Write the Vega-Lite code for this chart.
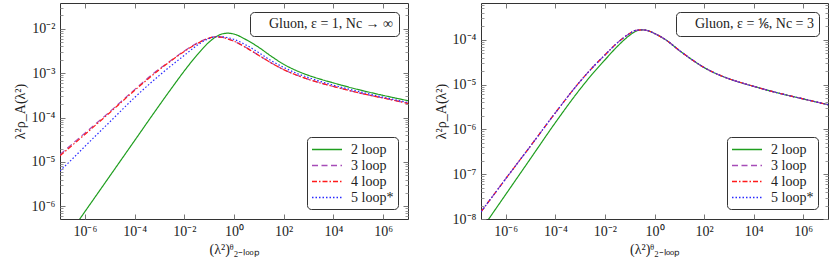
{
  "$schema": "https://vega.github.io/schema/vega-lite/v6.json",
  "padding": {"left": 12, "top": 2, "right": 3, "bottom": 0},
  "spacing": 24,
  "config": {
    "view": {"stroke": "#333", "strokeWidth": 1},
    "font": "serif",
    "axis": {"labelFont": "serif", "titleFont": "serif", "labelColor": "#222", "titleColor": "#222", "tickColor": "#777", "domain": false, "grid": false},
    "legend": {"labelFont": "serif"}
  },
  "datasets": {
    "L": [
      {"x": 1e-7, "2 loop": 1.202e-7, "3 loop": 1.479e-5, "4 loop": 1.380e-5, "5 loop*": 6.310e-6},
      {"x": 3.162e-7, "2 loop": 3.02e-7, "3 loop": 2.570e-5, "4 loop": 2.399e-5, "5 loop*": 1.175e-5},
      {"x": 1e-6, "2 loop": 7.586e-7, "3 loop": 4.467e-5, "4 loop": 4.169e-5, "5 loop*": 2.239e-5},
      {"x": 1e-5, "2 loop": 4.786e-6, "3 loop": 1.349e-4, "4 loop": 1.288e-4, "5 loop*": 7.943e-5},
      {"x": 1e-4, "2 loop": 3.02e-5, "3 loop": 4.266e-4, "4 loop": 4.074e-4, "5 loop*": 2.818e-4},
      {"x": 1e-3, "2 loop": 1.905e-4, "3 loop": 1.259e-3, "4 loop": 1.202e-3, "5 loop*": 8.913e-4},
      {"x": 3.162e-3, "2 loop": 4.677e-4, "3 loop": 1.995e-3, "4 loop": 1.950e-3, "5 loop*": 1.514e-3},
      {"x": 1e-2, "2 loop": 1.122e-3, "3 loop": 3.162e-3, "4 loop": 3.090e-3, "5 loop*": 2.512e-3},
      {"x": 3.162e-2, "2 loop": 2.512e-3, "3 loop": 4.677e-3, "4 loop": 4.571e-3, "5 loop*": 4.169e-3},
      {"x": 0.1, "2 loop": 5.012e-3, "3 loop": 6.166e-3, "4 loop": 6.166e-3, "5 loop*": 6.026e-3},
      {"x": 0.1778, "2 loop": 6.457e-3, "3 loop": 6.607e-3, "4 loop": 6.607e-3, "5 loop*": 6.607e-3},
      {"x": 0.3162, "2 loop": 7.586e-3, "3 loop": 6.457e-3, "4 loop": 6.457e-3, "5 loop*": 6.607e-3},
      {"x": 0.5623, "2 loop": 7.943e-3, "3 loop": 5.888e-3, "4 loop": 5.888e-3, "5 loop*": 6.310e-3},
      {"x": 1, "2 loop": 7.586e-3, "3 loop": 5.248e-3, "4 loop": 5.248e-3, "5 loop*": 5.754e-3},
      {"x": 3.162, "2 loop": 5.623e-3, "3 loop": 3.715e-3, "4 loop": 3.715e-3, "5 loop*": 4.266e-3},
      {"x": 10, "2 loop": 3.802e-3, "3 loop": 2.512e-3, "4 loop": 2.512e-3, "5 loop*": 2.884e-3},
      {"x": 31.62, "2 loop": 2.399e-3, "3 loop": 1.698e-3, "4 loop": 1.698e-3, "5 loop*": 1.905e-3},
      {"x": 100, "2 loop": 1.585e-3, "3 loop": 1.202e-3, "4 loop": 1.202e-3, "5 loop*": 1.349e-3},
      {"x": 316.2, "2 loop": 1.148e-3, "3 loop": 9.120e-4, "4 loop": 9.120e-4, "5 loop*": 1.000e-3},
      {"x": 1e3, "2 loop": 8.913e-4, "3 loop": 7.244e-4, "4 loop": 7.244e-4, "5 loop*": 7.943e-4},
      {"x": 3162, "2 loop": 7.244e-4, "3 loop": 5.957e-4, "4 loop": 5.957e-4, "5 loop*": 6.457e-4},
      {"x": 1e4, "2 loop": 6.026e-4, "3 loop": 5.012e-4, "4 loop": 5.012e-4, "5 loop*": 5.370e-4},
      {"x": 1e5, "2 loop": 4.266e-4, "3 loop": 3.631e-4, "4 loop": 3.631e-4, "5 loop*": 3.890e-4},
      {"x": 1e6, "2 loop": 3.162e-4, "3 loop": 2.754e-4, "4 loop": 2.754e-4, "5 loop*": 2.884e-4},
      {"x": 1e7, "2 loop": 2.399e-4, "3 loop": 2.089e-4, "4 loop": 2.089e-4, "5 loop*": 2.188e-4}
    ],
    "R": [
      {"x": 1e-7, "2 loop": 5.623e-9, "3 loop": 1.445e-8, "4 loop": 1.445e-8, "5 loop*": 1.445e-8},
      {"x": 3.162e-7, "2 loop": 1.413e-8, "3 loop": 3.388e-8, "4 loop": 3.388e-8, "5 loop*": 3.388e-8},
      {"x": 1e-6, "2 loop": 3.548e-8, "3 loop": 7.943e-8, "4 loop": 7.943e-8, "5 loop*": 7.943e-8},
      {"x": 1e-5, "2 loop": 2.239e-7, "3 loop": 4.266e-7, "4 loop": 4.266e-7, "5 loop*": 4.266e-7},
      {"x": 1e-4, "2 loop": 1.413e-6, "3 loop": 2.344e-6, "4 loop": 2.344e-6, "5 loop*": 2.344e-6},
      {"x": 1e-3, "2 loop": 7.943e-6, "3 loop": 1.175e-5, "4 loop": 1.175e-5, "5 loop*": 1.175e-5},
      {"x": 3.162e-3, "2 loop": 1.738e-5, "3 loop": 2.399e-5, "4 loop": 2.399e-5, "5 loop*": 2.399e-5},
      {"x": 1e-2, "2 loop": 3.548e-5, "3 loop": 4.571e-5, "4 loop": 4.571e-5, "5 loop*": 4.571e-5},
      {"x": 3.162e-2, "2 loop": 7.079e-5, "3 loop": 8.511e-5, "4 loop": 8.511e-5, "5 loop*": 8.511e-5},
      {"x": 0.1, "2 loop": 1.259e-4, "3 loop": 1.380e-4, "4 loop": 1.380e-4, "5 loop*": 1.380e-4},
      {"x": 0.1778, "2 loop": 1.549e-4, "3 loop": 1.622e-4, "4 loop": 1.622e-4, "5 loop*": 1.622e-4},
      {"x": 0.3162, "2 loop": 1.660e-4, "3 loop": 1.660e-4, "4 loop": 1.660e-4, "5 loop*": 1.660e-4},
      {"x": 0.5623, "2 loop": 1.585e-4, "3 loop": 1.585e-4, "4 loop": 1.585e-4, "5 loop*": 1.585e-4},
      {"x": 1, "2 loop": 1.380e-4, "3 loop": 1.380e-4, "4 loop": 1.380e-4, "5 loop*": 1.380e-4},
      {"x": 3.162, "2 loop": 9.550e-5, "3 loop": 9.550e-5, "4 loop": 9.550e-5, "5 loop*": 9.550e-5},
      {"x": 10, "2 loop": 5.754e-5, "3 loop": 5.754e-5, "4 loop": 5.754e-5, "5 loop*": 5.754e-5},
      {"x": 31.62, "2 loop": 3.631e-5, "3 loop": 3.631e-5, "4 loop": 3.631e-5, "5 loop*": 3.631e-5},
      {"x": 100, "2 loop": 2.399e-5, "3 loop": 2.399e-5, "4 loop": 2.399e-5, "5 loop*": 2.399e-5},
      {"x": 316.2, "2 loop": 1.738e-5, "3 loop": 1.738e-5, "4 loop": 1.738e-5, "5 loop*": 1.738e-5},
      {"x": 1e3, "2 loop": 1.349e-5, "3 loop": 1.349e-5, "4 loop": 1.349e-5, "5 loop*": 1.349e-5},
      {"x": 3162, "2 loop": 1.096e-5, "3 loop": 1.096e-5, "4 loop": 1.096e-5, "5 loop*": 1.096e-5},
      {"x": 1e4, "2 loop": 9.120e-6, "3 loop": 9.120e-6, "4 loop": 9.120e-6, "5 loop*": 9.120e-6},
      {"x": 1e5, "2 loop": 6.457e-6, "3 loop": 6.457e-6, "4 loop": 6.457e-6, "5 loop*": 6.457e-6},
      {"x": 1e6, "2 loop": 4.786e-6, "3 loop": 4.786e-6, "4 loop": 4.786e-6, "5 loop*": 4.786e-6},
      {"x": 1e7, "2 loop": 3.548e-6, "3 loop": 3.548e-6, "4 loop": 3.548e-6, "5 loop*": 3.548e-6}
    ]
  },
  "resolve": {
    "scale": {"color": "independent", "strokeDash": "independent", "shape": "independent", "x": "independent", "y": "independent"},
    "legend": {"color": "independent", "strokeDash": "independent", "shape": "independent"}
  },
  "hconcat": [
    {
      "width": 348,
      "height": 216,
      "resolve": {"axis": {"x": "independent", "y": "independent"}},
      "layer": [
        {
          "data": {"name": "L"},
          "transform": [{"fold": ["2 loop", "3 loop", "4 loop", "5 loop*"], "as": ["s", "v"]}],
          "mark": {"type": "line", "strokeWidth": 1.2, "clip": true, "interpolate": "monotone"},
          "encoding": {
            "x": {"field": "x", "type": "quantitative", "scale": {"type": "log", "domain": [1e-7, 1e7]},
              "axis": {"orient": "bottom", "values": [1e-6, 1e-4, 1e-2, 1, 100, 1e4, 1e6], "ticks": false, "labelFontSize": 14, "labelPadding": 5, "title": "(λ²)ᶿ₂₋ₗₒₒₚ", "titleFontSize": 14, "titleFontWeight": "normal", "titlePadding": 4,
                "labelExpr": "'10' + replace(replace(replace(replace(replace(replace(replace(replace(replace(format(round(log(datum.value)/LN10),'d'),'−','⁻'),'-','⁻'),'0','⁰'),'1','¹'),'2','²'),'4','⁴'),'6','⁶'),'7','⁷'),'8','⁸')"}},
            "y": {"field": "v", "type": "quantitative", "scale": {"type": "log", "domain": [5.2e-7, 0.038]},
              "axis": {"orient": "left", "values": [1e-6, 1e-5, 1e-4, 1e-3, 1e-2], "ticks": false, "labelFontSize": 14, "labelPadding": 5, "title": "λ²ρ_A(λ²)", "titleFontSize": 14, "titleFontWeight": "normal", "titlePadding": 4,
                "labelExpr": "'10' + replace(replace(replace(replace(replace(replace(replace(replace(replace(format(round(log(datum.value)/LN10),'d'),'−','⁻'),'-','⁻'),'0','⁰'),'1','¹'),'2','²'),'3','³'),'4','⁴'),'5','⁵'),'6','⁶')"}},
            "color": {"field": "s", "type": "nominal", "scale": {"domain": ["2 loop", "3 loop", "4 loop", "5 loop*"], "range": ["#1f9e1f", "#a64cb8", "#ff1a1a", "#2a2aff"]},
              "legend": {"orient": "bottom-right", "title": null, "offset": 10, "padding": 4, "rowPadding": -4, "strokeColor": "#333", "fillColor": "white", "cornerRadius": 4, "labelFontSize": 14, "labelColor": "#222", "symbolType": "M-1,0H3", "symbolSize": 225, "symbolStrokeWidth": 1.3, "symbolFillColor": "transparent", "labelOffset": 23}},
            "strokeDash": {"field": "s", "type": "nominal", "scale": {"domain": ["2 loop", "3 loop", "4 loop", "5 loop*"], "range": [[1, 0], [6, 3.5], [5, 2, 1.5, 2], [1.5, 2]]},
              "legend": {"orient": "bottom-right", "title": null, "offset": 10, "padding": 4, "rowPadding": -4, "strokeColor": "#333", "fillColor": "white", "cornerRadius": 4, "labelFontSize": 14, "labelColor": "#222", "symbolType": "M-1,0H3", "symbolSize": 225, "symbolStrokeWidth": 1.3, "symbolFillColor": "transparent", "labelOffset": 23}}
          }
        },
        {
          "data": {"values": [{"x": 1, "y": 1e-3, "t": "Gluon, ε = 1, Nc → ∞"}]},
          "mark": {"type": "point", "opacity": 0},
          "encoding": {
            "x": {"field": "x", "type": "quantitative", "scale": {"type": "log", "domain": [1e-7, 1e7]},
              "axis": {"orient": "top", "values": [1e-6, 1e-4, 1e-2, 1, 100, 1e4, 1e6], "labels": false, "tickSize": -5, "title": null}},
            "y": {"field": "y", "type": "quantitative", "scale": {"type": "log", "domain": [5.2e-7, 0.038]},
              "axis": {"orient": "right", "values": [1e-6, 1e-5, 1e-4, 1e-3, 1e-2], "labels": false, "tickSize": -5, "title": null}},
            "shape": {"field": "t", "type": "nominal",
              "legend": {"orient": "top-right", "title": null, "offset": 9, "padding": 5, "strokeColor": "#333", "fillColor": "white", "cornerRadius": 4, "labelFontSize": 14, "labelColor": "#222", "symbolSize": 0, "symbolOpacity": 0, "symbolStrokeWidth": 0, "labelOffset": 0}}
          }
        },
        {
          "data": {"values": [{"x": 1, "y": 1e-3}]},
          "mark": {"type": "point", "opacity": 0},
          "encoding": {
            "x": {"field": "x", "type": "quantitative", "scale": {"type": "log", "domain": [1e-7, 1e7]},
              "axis": {"orient": "bottom", "values": [1e-6, 1e-4, 1e-2, 1, 100, 1e4, 1e6], "labels": false, "tickSize": -5, "title": null}},
            "y": {"field": "y", "type": "quantitative", "scale": {"type": "log", "domain": [5.2e-7, 0.038]},
              "axis": {"orient": "left", "values": [1e-6, 1e-5, 1e-4, 1e-3, 1e-2], "labels": false, "tickSize": -5, "title": null}}
          }
        },
        {
          "data": {"values": [{"x": 1, "y": 1e-3}]},
          "mark": {"type": "point", "opacity": 0},
          "encoding": {
            "x": {"field": "x", "type": "quantitative", "scale": {"type": "log", "domain": [1e-7, 1e7]}, "axis": null},
            "y": {"field": "y", "type": "quantitative", "scale": {"type": "log", "domain": [5.2e-7, 0.038]},
              "axis": {"orient": "left", "values": [6e-7, 7e-7, 8e-7, 9e-7, 2e-6, 3e-6, 4e-6, 5e-6, 6e-6, 7e-6, 8e-6, 9e-6, 2e-5, 3e-5, 4e-5, 5e-5, 6e-5, 7e-5, 8e-5, 9e-5, 2e-4, 3e-4, 4e-4, 5e-4, 6e-4, 7e-4, 8e-4, 9e-4, 2e-3, 3e-3, 4e-3, 5e-3, 6e-3, 7e-3, 8e-3, 9e-3, 2e-2, 3e-2], "labels": false, "tickSize": -3, "tickColor": "#999", "title": null}}
          }
        },
        {
          "data": {"values": [{"x": 1, "y": 1e-3}]},
          "mark": {"type": "point", "opacity": 0},
          "encoding": {
            "x": {"field": "x", "type": "quantitative", "scale": {"type": "log", "domain": [1e-7, 1e7]}, "axis": null},
            "y": {"field": "y", "type": "quantitative", "scale": {"type": "log", "domain": [5.2e-7, 0.038]},
              "axis": {"orient": "right", "values": [6e-7, 7e-7, 8e-7, 9e-7, 2e-6, 3e-6, 4e-6, 5e-6, 6e-6, 7e-6, 8e-6, 9e-6, 2e-5, 3e-5, 4e-5, 5e-5, 6e-5, 7e-5, 8e-5, 9e-5, 2e-4, 3e-4, 4e-4, 5e-4, 6e-4, 7e-4, 8e-4, 9e-4, 2e-3, 3e-3, 4e-3, 5e-3, 6e-3, 7e-3, 8e-3, 9e-3, 2e-2, 3e-2], "labels": false, "tickSize": -3, "tickColor": "#999", "title": null}}
          }
        }
      ]
    },
    {
      "width": 347,
      "height": 216,
      "resolve": {"axis": {"x": "independent", "y": "independent"}},
      "layer": [
        {
          "data": {"name": "R"},
          "transform": [{"fold": ["2 loop", "3 loop", "4 loop", "5 loop*"], "as": ["s", "v"]}],
          "mark": {"type": "line", "strokeWidth": 1.2, "clip": true, "interpolate": "monotone"},
          "encoding": {
            "x": {"field": "x", "type": "quantitative", "scale": {"type": "log", "domain": [1e-7, 1e7]},
              "axis": {"orient": "bottom", "values": [1e-6, 1e-4, 1e-2, 1, 100, 1e4, 1e6], "ticks": false, "labelFontSize": 14, "labelPadding": 5, "title": "(λ²)ᶿ₂₋ₗₒₒₚ", "titleFontSize": 14, "titleFontWeight": "normal", "titlePadding": 4,
                "labelExpr": "'10' + replace(replace(replace(replace(replace(replace(replace(replace(replace(format(round(log(datum.value)/LN10),'d'),'−','⁻'),'-','⁻'),'0','⁰'),'1','¹'),'2','²'),'4','⁴'),'6','⁶'),'7','⁷'),'8','⁸')"}},
            "y": {"field": "v", "type": "quantitative", "scale": {"type": "log", "domain": [1e-8, 6.6e-4]},
              "axis": {"orient": "left", "values": [1e-8, 1e-7, 1e-6, 1e-5, 1e-4], "ticks": false, "labelFontSize": 14, "labelPadding": 5, "title": "λ²ρ_A(λ²)", "titleFontSize": 14, "titleFontWeight": "normal", "titlePadding": 4,
                "labelExpr": "'10' + replace(replace(replace(replace(replace(replace(replace(replace(replace(format(round(log(datum.value)/LN10),'d'),'−','⁻'),'-','⁻'),'0','⁰'),'4','⁴'),'5','⁵'),'6','⁶'),'7','⁷'),'8','⁸'),'2','²')"}},
            "color": {"field": "s", "type": "nominal", "scale": {"domain": ["2 loop", "3 loop", "4 loop", "5 loop*"], "range": ["#1f9e1f", "#a64cb8", "#ff1a1a", "#2a2aff"]},
              "legend": {"orient": "bottom-right", "title": null, "offset": 10, "padding": 4, "rowPadding": -4, "strokeColor": "#333", "fillColor": "white", "cornerRadius": 4, "labelFontSize": 14, "labelColor": "#222", "symbolType": "M-1,0H3", "symbolSize": 225, "symbolStrokeWidth": 1.3, "symbolFillColor": "transparent", "labelOffset": 23}},
            "strokeDash": {"field": "s", "type": "nominal", "scale": {"domain": ["2 loop", "3 loop", "4 loop", "5 loop*"], "range": [[1, 0], [6, 3.5], [5, 2, 1.5, 2], [1.5, 2]]},
              "legend": {"orient": "bottom-right", "title": null, "offset": 10, "padding": 4, "rowPadding": -4, "strokeColor": "#333", "fillColor": "white", "cornerRadius": 4, "labelFontSize": 14, "labelColor": "#222", "symbolType": "M-1,0H3", "symbolSize": 225, "symbolStrokeWidth": 1.3, "symbolFillColor": "transparent", "labelOffset": 23}}
          }
        },
        {
          "data": {"values": [{"x": 1, "y": 1e-5, "t": "Gluon, ε = ⅙, Nc = 3"}]},
          "mark": {"type": "point", "opacity": 0},
          "encoding": {
            "x": {"field": "x", "type": "quantitative", "scale": {"type": "log", "domain": [1e-7, 1e7]},
              "axis": {"orient": "top", "values": [1e-6, 1e-4, 1e-2, 1, 100, 1e4, 1e6], "labels": false, "tickSize": -5, "title": null}},
            "y": {"field": "y", "type": "quantitative", "scale": {"type": "log", "domain": [1e-8, 6.6e-4]},
              "axis": {"orient": "right", "values": [1e-8, 1e-7, 1e-6, 1e-5, 1e-4], "labels": false, "tickSize": -5, "title": null}},
            "shape": {"field": "t", "type": "nominal",
              "legend": {"orient": "top-right", "title": null, "offset": 9, "padding": 5, "strokeColor": "#333", "fillColor": "white", "cornerRadius": 4, "labelFontSize": 14, "labelColor": "#222", "symbolSize": 0, "symbolOpacity": 0, "symbolStrokeWidth": 0, "labelOffset": 0}}
          }
        },
        {
          "data": {"values": [{"x": 1, "y": 1e-5}]},
          "mark": {"type": "point", "opacity": 0},
          "encoding": {
            "x": {"field": "x", "type": "quantitative", "scale": {"type": "log", "domain": [1e-7, 1e7]},
              "axis": {"orient": "bottom", "values": [1e-6, 1e-4, 1e-2, 1, 100, 1e4, 1e6], "labels": false, "tickSize": -5, "title": null}},
            "y": {"field": "y", "type": "quantitative", "scale": {"type": "log", "domain": [1e-8, 6.6e-4]},
              "axis": {"orient": "left", "values": [1e-8, 1e-7, 1e-6, 1e-5, 1e-4], "labels": false, "tickSize": -5, "title": null}}
          }
        },
        {
          "data": {"values": [{"x": 1, "y": 1e-5}]},
          "mark": {"type": "point", "opacity": 0},
          "encoding": {
            "x": {"field": "x", "type": "quantitative", "scale": {"type": "log", "domain": [1e-7, 1e7]}, "axis": null},
            "y": {"field": "y", "type": "quantitative", "scale": {"type": "log", "domain": [1e-8, 6.6e-4]},
              "axis": {"orient": "left", "values": [2e-8, 3e-8, 4e-8, 5e-8, 6e-8, 7e-8, 8e-8, 9e-8, 2e-7, 3e-7, 4e-7, 5e-7, 6e-7, 7e-7, 8e-7, 9e-7, 2e-6, 3e-6, 4e-6, 5e-6, 6e-6, 7e-6, 8e-6, 9e-6, 2e-5, 3e-5, 4e-5, 5e-5, 6e-5, 7e-5, 8e-5, 9e-5, 2e-4, 3e-4, 4e-4, 5e-4, 6e-4], "labels": false, "tickSize": -3, "tickColor": "#999", "title": null}}
          }
        },
        {
          "data": {"values": [{"x": 1, "y": 1e-5}]},
          "mark": {"type": "point", "opacity": 0},
          "encoding": {
            "x": {"field": "x", "type": "quantitative", "scale": {"type": "log", "domain": [1e-7, 1e7]}, "axis": null},
            "y": {"field": "y", "type": "quantitative", "scale": {"type": "log", "domain": [1e-8, 6.6e-4]},
              "axis": {"orient": "right", "values": [2e-8, 3e-8, 4e-8, 5e-8, 6e-8, 7e-8, 8e-8, 9e-8, 2e-7, 3e-7, 4e-7, 5e-7, 6e-7, 7e-7, 8e-7, 9e-7, 2e-6, 3e-6, 4e-6, 5e-6, 6e-6, 7e-6, 8e-6, 9e-6, 2e-5, 3e-5, 4e-5, 5e-5, 6e-5, 7e-5, 8e-5, 9e-5, 2e-4, 3e-4, 4e-4, 5e-4, 6e-4], "labels": false, "tickSize": -3, "tickColor": "#999", "title": null}}
          }
        }
      ]
    }
  ]
}
